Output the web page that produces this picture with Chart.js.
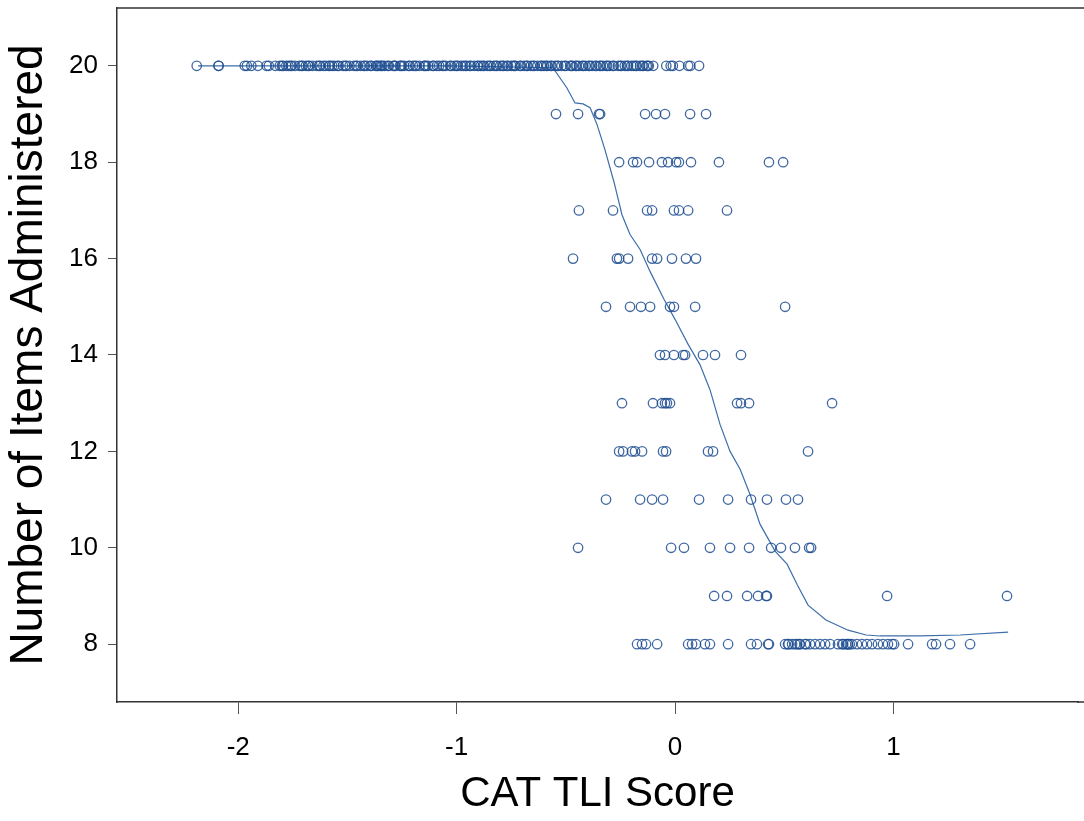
<!DOCTYPE html>
<html>
<head>
<meta charset="utf-8">
<script src="https://cdn.jsdelivr.net/npm/chart.js@4.4.1/dist/chart.umd.min.js"></script>
<style>
  body { margin: 0; background: #fff; overflow: hidden; }
  #wrap { width: 1084px; height: 821px; }
  canvas { display: block; }
</style>
</head>
<body>
<div id="wrap"><canvas id="chart" width="1084" height="821"></canvas></div>
<script>
// CAT TLI score (x) for each number of items administered (y)
const items20 = [-2.19, -2.09, -2.09, -1.97, -1.96, -1.94, -1.91, -1.87, -1.86, -1.83, -1.81, -1.80,
  -1.78, -1.77, -1.76, -1.74, -1.72, -1.71, -1.69, -1.68, -1.66, -1.64, -1.63, -1.61, -1.60, -1.58,
  -1.57, -1.56, -1.54, -1.52, -1.51, -1.49, -1.47, -1.46, -1.44, -1.42, -1.41, -1.39, -1.37, -1.36,
  -1.35, -1.34, -1.33, -1.31, -1.29, -1.28, -1.26, -1.25, -1.24, -1.22, -1.20, -1.19, -1.17, -1.15,
  -1.14, -1.13, -1.11, -1.09, -1.08, -1.06, -1.05, -1.03, -1.01, -1.00, -0.98, -0.97, -0.96, -0.94,
  -0.92, -0.90, -0.89, -0.88, -0.86, -0.85, -0.83, -0.82, -0.80, -0.79, -0.77, -0.75, -0.74, -0.73,
  -0.71, -0.69, -0.68, -0.66, -0.65, -0.63, -0.61, -0.60, -0.59, -0.57, -0.55, -0.54, -0.52, -0.50,
  -0.48, -0.47, -0.45, -0.44, -0.42, -0.41, -0.39, -0.38, -0.36, -0.34, -0.33, -0.31, -0.30, -0.28,
  -0.26, -0.25, -0.23, -0.22, -0.20, -0.19, -0.18, -0.16, -0.15, -0.13, -0.12, -0.10, -0.04, -0.02,
  -0.01, 0.02, 0.06, 0.07, 0.11,
  -1.795, -1.755, -1.705, -1.675, -1.625, -1.585, -1.545, -1.505, -1.455, -1.425, -1.395, -1.365,
  -1.345, -1.315, -1.285, -1.255, -1.215, -1.185, -1.145, -1.105, -1.065, -1.025, -0.995, -0.955,
  -0.935, -0.905, -0.875, -0.845, -0.815, -0.785, -0.765, -0.735, -0.705, -0.675, -0.645, -0.615,
  -0.585, -0.565, -0.535, -0.505, -0.475, -0.455, -0.425, -0.395, -0.365, -0.345, -0.315, -0.285,
  -0.245, -0.215, -0.175, -0.145, -0.125];
const items19 = [-0.545, -0.444, -0.348, -0.343, -0.137, -0.087, -0.046, 0.069, 0.142];
const items18 = [-0.256, -0.192, -0.174, -0.119, -0.060, -0.032, 0.005, 0.018, 0.073, 0.201, 0.430, 0.495];
const items17 = [-0.440, -0.284, -0.128, -0.105, -0.005, 0.018, 0.060, 0.238];
const items16 = [-0.467, -0.266, -0.256, -0.215, -0.105, -0.082, -0.014, 0.050, 0.096];
const items15 = [-0.316, -0.206, -0.156, -0.114, -0.023, -0.005, 0.092, 0.504];
const items14 = [-0.069, -0.046, -0.005, 0.037, 0.046, 0.128, 0.183, 0.302];
const items13 = [-0.243, -0.101, -0.060, -0.046, -0.037, -0.023, 0.284, 0.302, 0.339, 0.719];
const items12 = [-0.256, -0.238, -0.197, -0.183, -0.151, -0.055, -0.041, 0.151, 0.174, 0.609];
const items11 = [-0.316, -0.160, -0.105, -0.055, 0.110, 0.243, 0.348, 0.421, 0.508, 0.563];
const items10 = [-0.444, -0.018, 0.041, 0.160, 0.252, 0.339, 0.440, 0.485, 0.549, 0.614, 0.623];
const items9 = [0.179, 0.238, 0.330, 0.380, 0.417, 0.421, 0.971, 1.520];
const items8 = [-0.174, -0.151, -0.133, -0.082, 0.060, 0.078, 0.096, 0.137, 0.160, 0.243, 0.348, 0.375,
  0.426, 0.430, 0.504, 0.517, 0.520, 0.536, 0.550, 0.559, 0.570, 0.572, 0.595, 0.600, 0.618, 0.641,
  0.664, 0.687, 0.710, 0.746, 0.765, 0.770, 0.783, 0.790, 0.792, 0.800, 0.810, 0.833, 0.856, 0.879,
  0.902, 0.929, 0.952, 0.975, 0.994, 1.003, 1.067, 1.177, 1.195, 1.259, 1.351];

const itemCounts = [20, 19, 18, 17, 16, 15, 14, 13, 12, 11, 10, 9, 8];
const scoresByCount = [items20, items19, items18, items17, items16, items15, items14,
  items13, items12, items11, items10, items9, items8];

// smoothed (loess) curve
const smoothX = [-2.184, -1.03, -0.559, -0.495, -0.458, -0.421, -0.389, -0.357, -0.321, -0.279,
  -0.243, -0.206, -0.160, -0.114, -0.050, 0.0, 0.060, 0.114, 0.160, 0.206, 0.252, 0.298, 0.343,
  0.389, 0.458, 0.513, 0.559, 0.609, 0.691, 0.792, 0.875, 0.939, 1.122, 1.305, 1.525];
const smoothY = [20, 20, 19.96, 19.54, 19.23, 19.21, 19.13, 18.78, 18.26, 17.58,
  16.91, 16.50, 16.19, 15.73, 15.15, 14.74, 14.22, 13.80, 13.28, 12.56, 12.00, 11.63, 11.11,
  10.49, 9.93, 9.66, 9.24, 8.81, 8.50, 8.29, 8.19, 8.17, 8.17, 8.19, 8.25];

const xTicks = [-2, -1, 0, 1];
const yTicks = [8, 10, 12, 14, 16, 18, 20];

const points = [];
itemCounts.forEach((n, i) => {
  scoresByCount[i].forEach(x => points.push({ x: x, y: n }));
});
const curve = smoothX.map((x, i) => ({ x: x, y: smoothY[i] }));

// box lines: top edge, and carry top/bottom lines out to the canvas edge
const boxLines = {
  id: 'boxLines',
  afterDraw(chart) {
    const { ctx, chartArea, width } = chart;
    ctx.save();
    ctx.strokeStyle = '#333';
    ctx.lineWidth = 1.5;
    ctx.beginPath();
    ctx.moveTo(chartArea.left, chartArea.top);
    ctx.lineTo(width, chartArea.top);
    ctx.moveTo(chartArea.right - 1, chartArea.bottom);
    ctx.lineTo(width, chartArea.bottom);
    ctx.stroke();
    ctx.restore();
  }
};

const fontFamily = '"Liberation Sans", Arial, Helvetica, sans-serif';

new Chart(document.getElementById('chart'), {
  type: 'scatter',
  data: {
    datasets: [{
      data: points,
      pointStyle: 'circle',
      pointRadius: 4.7,
      pointHoverRadius: 4.7,
      pointBorderWidth: 1.3,
      pointBorderColor: 'rgba(30, 78, 145, 0.85)',
      pointBackgroundColor: 'rgba(0,0,0,0)'
    }, {
      data: curve,
      showLine: true,
      pointRadius: 0,
      borderColor: 'rgb(60, 110, 170)',
      borderWidth: 1.2,
      tension: 0
    }]
  },
  options: {
    responsive: false,
    animation: false,
    layout: { padding: { top: 8, right: 0, left: 0, bottom: 0 } },
    plugins: { legend: { display: false }, tooltip: { enabled: false } },
    scales: {
      x: {
        type: 'linear',
        min: -2.555,
        max: 1.845,
        afterBuildTicks: s => { s.ticks = xTicks.map(v => ({ value: v })); },
        afterFit: s => { s.height = 119; s.paddingLeft = 0; s.paddingRight = 0; },
        grid: { drawOnChartArea: false, drawTicks: true, tickLength: 12, color: '#555', lineWidth: 1 },
        border: { display: true, color: '#333', width: 1.5 },
        ticks: { color: '#000', padding: 18, font: { family: fontFamily, size: 26 } },
        title: {
          display: true, text: 'CAT TLI Score', color: '#000',
          font: { family: fontFamily, size: 42, lineHeight: 1.2 }, padding: { top: 0, bottom: 1 }
        }
      },
      y: {
        type: 'linear',
        min: 6.8,
        max: 21.2,
        afterBuildTicks: s => { s.ticks = yTicks.map(v => ({ value: v })); },
        afterFit: s => { s.width = 117; s.paddingTop = 0; s.paddingBottom = 0; },
        grid: { drawOnChartArea: false, drawTicks: true, tickLength: 9, color: '#555', lineWidth: 1 },
        border: { display: true, color: '#333', width: 1.5 },
        ticks: { color: '#000', padding: 10, font: { family: fontFamily, size: 26 } },
        title: {
          display: true, text: 'Number of Items Administered', color: '#000',
          font: { family: fontFamily, size: 46, lineHeight: 1.2 }, padding: { top: 2, bottom: 0 }
        }
      }
    }
  },
  plugins: [boxLines]
});
</script>
</body>
</html>
